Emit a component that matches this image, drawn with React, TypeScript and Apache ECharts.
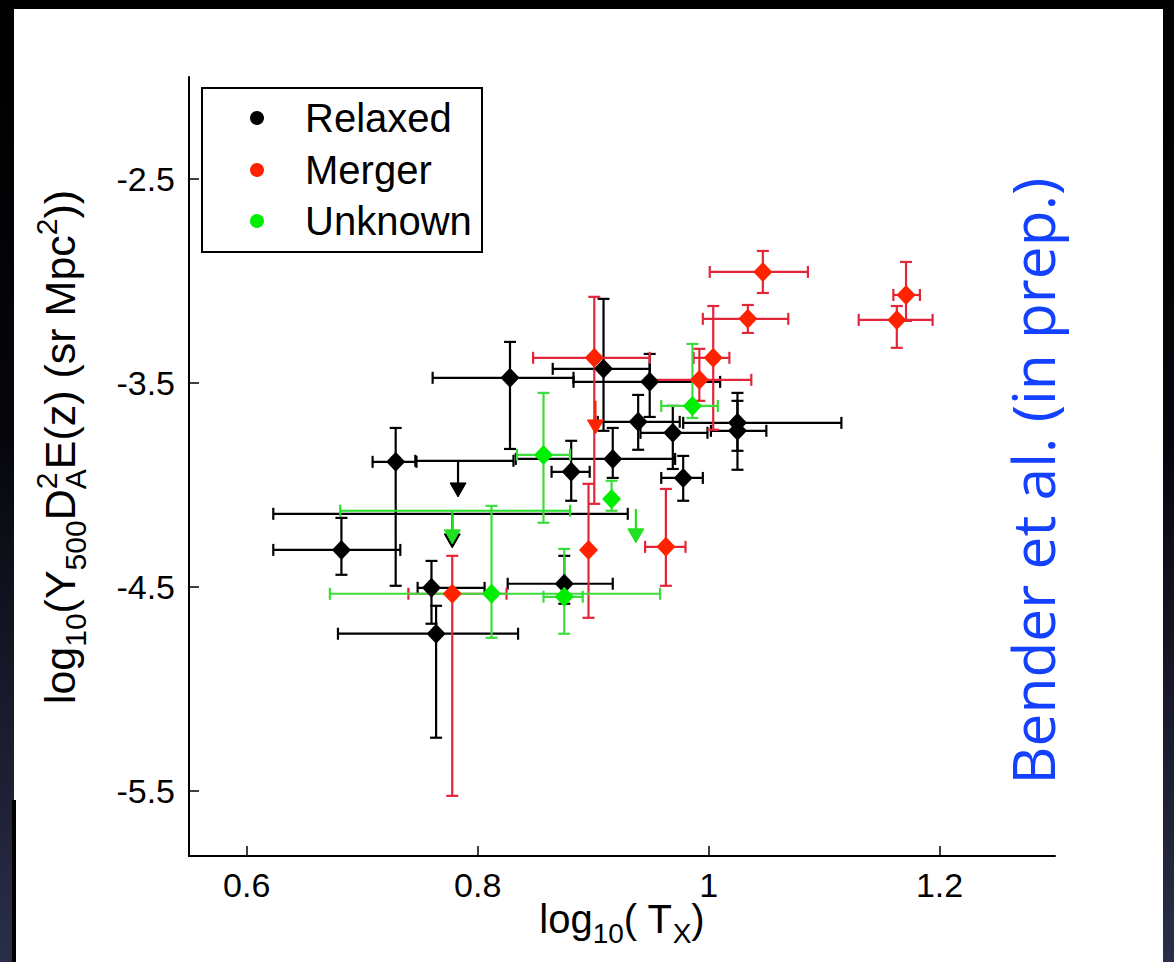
import React, { useEffect, useRef } from "react";
import * as echarts from "echarts";

const W = 1174;
const H = 962;

// rows: [log10 Tx, log10 Y, xLow, xHigh, yLow, yHigh]
const relaxed = [
  [0.682, -4.319, 0.623, 0.733, -4.441, -4.162],
  [0.729, -3.887, 0.709, 0.747, -4.495, -3.721],
  [0.760, -4.505, 0.748, 0.806, -4.681, -4.373],
  [0.764, -4.730, 0.679, 0.835, -5.240, -4.593],
  [0.828, -3.475, 0.761, 0.883, -3.824, -3.299],
  [0.909, -3.431, 0.865, 0.949, -3.735, -3.088],
  [0.949, -3.495, 0.883, 1.010, -3.667, -3.358],
  [0.939, -3.691, 0.904, 0.975, -3.828, -3.559],
  [0.969, -3.745, 0.941, 0.999, -3.922, -3.613],
  [1.025, -3.696, 0.978, 1.115, -3.833, -3.549],
  [1.025, -3.735, 1.002, 1.050, -3.926, -3.588],
  [0.917, -3.873, 0.833, 0.971, -3.966, -3.721],
  [0.881, -3.936, 0.864, 0.897, -4.078, -3.784],
  [0.978, -3.966, 0.959, 0.995, -4.078, -3.858],
  [0.875, -4.485, 0.826, 0.917, -4.583, -4.348],
];
// upper limits: [log10 Tx, log10 Y, xLow, xHigh, arrow end]
const relaxedLimits = [
  [0.783, -3.882, 0.746, 0.831, -4.025],
  [0.778, -4.142, 0.623, 0.930, -4.275],
];
const merger = [
  [1.047, -2.956, 1.001, 1.086, -3.059, -2.853],
  [1.034, -3.186, 0.995, 1.069, -3.255, -3.118],
  [0.901, -3.377, 0.848, 0.949, -4.093, -3.078],
  [0.896, -4.319, 0.896, 0.896, -4.652, -3.995],
  [0.963, -4.304, 0.945, 0.980, -4.495, -4.020],
  [0.992, -3.485, 0.949, 1.037, -3.588, -3.333],
  [1.004, -3.377, 0.987, 1.018, -3.730, -3.123],
  [1.163, -3.191, 1.130, 1.194, -3.328, -3.123],
  [1.171, -3.069, 1.160, 1.183, -3.196, -2.907],
  [0.778, -4.534, 0.740, 0.825, -5.525, -4.348],
];
const mergerLimits = [[0.902, -3.588, 0.902, 0.902, -3.716]];
const unknown = [
  [0.857, -3.853, 0.834, 0.880, -4.186, -3.549],
  [0.986, -3.613, 0.959, 1.008, -3.672, -3.309],
  [0.916, -4.069, 0.916, 0.916, -4.127, -3.980],
  [0.812, -4.534, 0.672, 0.958, -4.750, -4.103],
  [0.875, -4.549, 0.857, 0.891, -4.730, -4.314],
];
const unknownLimits = [
  [0.778, -4.127, 0.681, 0.880, -4.255],
  [0.937, -4.118, 0.937, 0.937, -4.250],
];

const xTicks = [0.6, 0.8, 1, 1.2];
const yTicks = [-5.5, -4.5, -3.5, -2.5];
const legendNames = ["Relaxed", "Merger", "Unknown"];
const markerColors = ["#000000", "#ff2200", "#00ee00"];
const barColors = ["#000000", "#e2263a", "#3cdc3c"];
const arrowColors = ["#000000", "#ff2200", "#22e022"];
const creditText = "Bender et al. (in prep.)";

const FONT = "'Liberation Sans', Arial, sans-serif";
const CAP = 6;
const LW = 2.2;

function errRender(color: string) {
  return (params: any, api: any) => {
    const x = api.value(0), y = api.value(1);
    const xlo = api.value(2), xhi = api.value(3), ylo = api.value(4), yhi = api.value(5);
    const style = { stroke: color, lineWidth: LW, fill: "none" };
    const children: any[] = [];
    const ln = (x1: number, y1: number, x2: number, y2: number) =>
      children.push({ type: "line", shape: { x1, y1, x2, y2 }, style });
    if (xlo !== xhi) {
      const a = api.coord([xlo, y]);
      const b = api.coord([xhi, y]);
      ln(a[0], a[1], b[0], b[1]);
      ln(a[0], a[1] - CAP, a[0], a[1] + CAP);
      ln(b[0], b[1] - CAP, b[0], b[1] + CAP);
    }
    if (ylo !== yhi) {
      const a = api.coord([x, ylo]);
      const b = api.coord([x, yhi]);
      ln(a[0], a[1], b[0], b[1]);
      ln(a[0] - CAP, a[1], a[0] + CAP, a[1]);
      ln(b[0] - CAP, b[1], b[0] + CAP, b[1]);
    }
    return { type: "group", children };
  };
}

function limitRender(color: string) {
  return (params: any, api: any) => {
    const x = api.value(0), y = api.value(1);
    const xlo = api.value(2), xhi = api.value(3), yEnd = api.value(4);
    const style = { stroke: color, lineWidth: LW, fill: "none" };
    const children: any[] = [];
    const ln = (x1: number, y1: number, x2: number, y2: number) =>
      children.push({ type: "line", shape: { x1, y1, x2, y2 }, style });
    if (xlo !== xhi) {
      const a = api.coord([xlo, y]);
      const b = api.coord([xhi, y]);
      ln(a[0], a[1], b[0], b[1]);
      ln(a[0], a[1] - CAP, a[0], a[1] + CAP);
      ln(b[0], b[1] - CAP, b[0], b[1] + CAP);
    }
    const p = api.coord([x, y]);
    const e = api.coord([x, yEnd]);
    ln(p[0], p[1], e[0], e[1] - 4);
    children.push({
      type: "polygon",
      shape: { points: [[e[0] - 8, e[1] - 7], [e[0] + 8, e[1] - 7], [e[0], e[1] + 7]] },
      style: { fill: color, stroke: color, lineWidth: 1 },
    });
    return { type: "group", children };
  };
}

type Piece = { t: string; s: number; dy: number; stack?: boolean };

function layoutPieces(pieces: Piece[], color: string) {
  const ctx = document.createElement("canvas").getContext("2d")!;
  let x = 0;
  let prevStart = 0;
  let prevW = 0;
  const items: any[] = [];
  for (const p of pieces) {
    ctx.font = `${p.s}px ${FONT}`;
    const w = ctx.measureText(p.t).width;
    let px: number;
    if (p.stack) {
      px = prevStart;
      prevW = Math.max(prevW, w);
      x = prevStart + prevW;
    } else {
      px = x;
      prevStart = x;
      prevW = w;
      x += w;
    }
    items.push({ px, p });
  }
  const make = (offset: number) =>
    items.map(({ px, p }) => ({
      type: "text",
      x: px + offset,
      y: p.dy - 0.3465 * p.s,
      style: {
        text: p.t,
        fontSize: p.s,
        fontFamily: FONT,
        fill: color,
        align: "left",
        verticalAlign: "middle",
      },
    }));
  return { width: x, make };
}

const xTitlePieces: Piece[] = [
  { t: "log", s: 40, dy: 0 },
  { t: "10", s: 28, dy: 10 },
  { t: "( T", s: 40, dy: 0 },
  { t: "X", s: 28, dy: 10 },
  { t: ")", s: 40, dy: 0 },
];
const yTitlePieces: Piece[] = [
  { t: "log", s: 43, dy: 0 },
  { t: "10", s: 30, dy: 11 },
  { t: "(Y", s: 43, dy: 0 },
  { t: "500", s: 30, dy: 11 },
  { t: "D", s: 43, dy: 0 },
  { t: "2", s: 30, dy: -18 },
  { t: "A", s: 30, dy: 11, stack: true },
  { t: "E(z) (sr Mpc", s: 43, dy: 0 },
  { t: "2", s: 30, dy: -18 },
  { t: "))", s: 43, dy: 0 },
];

export default function App() {
  const ref = useRef<HTMLDivElement>(null);
  useEffect(() => {
    const el = ref.current!;
    const chart = echarts.init(el, null, { renderer: "svg", width: W, height: H });

    const xt = layoutPieces(xTitlePieces, "#000");
    const yt = layoutPieces(yTitlePieces, "#000");
    const ctx = document.createElement("canvas").getContext("2d")!;
    ctx.font = `100px 'Open Sans'`;
    const creditSize = (607 / ctx.measureText(creditText).width) * 100;

    const groups = [
      { rows: relaxed, lims: relaxedLimits },
      { rows: merger, lims: mergerLimits },
      { rows: unknown, lims: unknownLimits },
    ];
    const series: any[] = [];
    groups.forEach((g, i) => {
      series.push({
        type: "custom",
        name: legendNames[i] + " errors",
        renderItem: errRender(barColors[i]),
        data: g.rows,
        encode: { x: 0, y: 1 },
        silent: true,
        clip: false,
      });
      series.push({
        type: "custom",
        name: legendNames[i] + " limits",
        renderItem: limitRender(arrowColors[i]),
        data: g.lims,
        encode: { x: 0, y: 1 },
        silent: true,
        clip: false,
      });
      series.push({
        type: "scatter",
        name: legendNames[i],
        data: g.rows.map((r) => [r[0], r[1]]),
        symbol: "diamond",
        symbolSize: [19, 20],
        itemStyle: { color: markerColors[i], opacity: 1 },
        silent: true,
      });
    });

    const legendRows = [118, 170, 221];
    const graphic: any[] = [
      {
        type: "rect",
        shape: { x: 202, y: 88, width: 280, height: 164 },
        style: { fill: "#fff", stroke: "#000", lineWidth: 2 },
        z: 100,
      },
      ...legendNames.map((n, i) => ({
        type: "circle",
        shape: { cx: 257, cy: legendRows[i], r: 7 },
        style: { fill: markerColors[i] },
        z: 101,
      })),
      ...legendNames.map((n, i) => ({
        type: "text",
        x: 305,
        y: legendRows[i],
        style: { text: n, fontSize: 40, fontFamily: FONT, fill: "#000", align: "left", verticalAlign: "middle" },
        z: 101,
      })),
      {
        type: "group",
        x: 622,
        y: 933,
        children: xt.make(-xt.width / 2),
      },
      {
        type: "group",
        x: 75,
        y: 447,
        rotation: Math.PI / 2,
        children: yt.make(-yt.width / 2),
      },
      {
        type: "text",
        x: 1052 - 0.3465 * creditSize,
        y: 481,
        rotation: Math.PI / 2,
        style: {
          text: creditText,
          fontSize: creditSize,
          fontFamily: "'Open Sans', sans-serif",
          fill: "#1440ff",
          align: "center",
          verticalAlign: "middle",
        },
      },
    ];

    chart.setOption({
      animation: false,
      grid: { left: 189, right: 119, top: 77, bottom: 106, outerBoundsMode: "none" },
      xAxis: {
        type: "value",
        min: 0.55,
        max: 1.3,
        axisLine: { show: true, onZero: false, lineStyle: { color: "#000", width: 2 } },
        axisTick: { show: true, inside: true, length: 10, customValues: xTicks, lineStyle: { color: "#000", width: 1.5 } },
        axisLabel: {
          customValues: xTicks,
          formatter: (v: number) => String(v),
          fontSize: 34,
          fontFamily: FONT,
          color: "#000",
          margin: 12,
        },
        splitLine: { show: false },
      },
      yAxis: {
        type: "value",
        min: -5.82,
        max: -2,
        axisLine: { show: true, onZero: false, lineStyle: { color: "#000", width: 2 } },
        axisTick: { show: true, inside: true, length: 10, customValues: yTicks, lineStyle: { color: "#000", width: 1.5 } },
        axisLabel: {
          customValues: yTicks,
          formatter: (v: number) => v.toFixed(1),
          fontSize: 34,
          fontFamily: FONT,
          color: "#000",
          margin: 14,
        },
        splitLine: { show: false },
      },
      series,
      graphic,
    });
    return () => chart.dispose();
  }, []);

  return (
    <div
      style={{
        position: "fixed",
        left: 0,
        top: 0,
        width: W,
        height: H,
        background: "linear-gradient(180deg, #000000 0%, #05060c 45%, #2a2e48 100%)",
      }}
    >
      <div style={{ position: "absolute", left: 14, top: 9, width: 1149, height: 953, background: "#fff" }} />
      <div style={{ position: "absolute", left: 12, top: 800, width: 4, height: 162, background: "#000" }} />
      <div ref={ref} style={{ position: "absolute", left: 0, top: 0, width: W, height: H }} />
    </div>
  );
}
